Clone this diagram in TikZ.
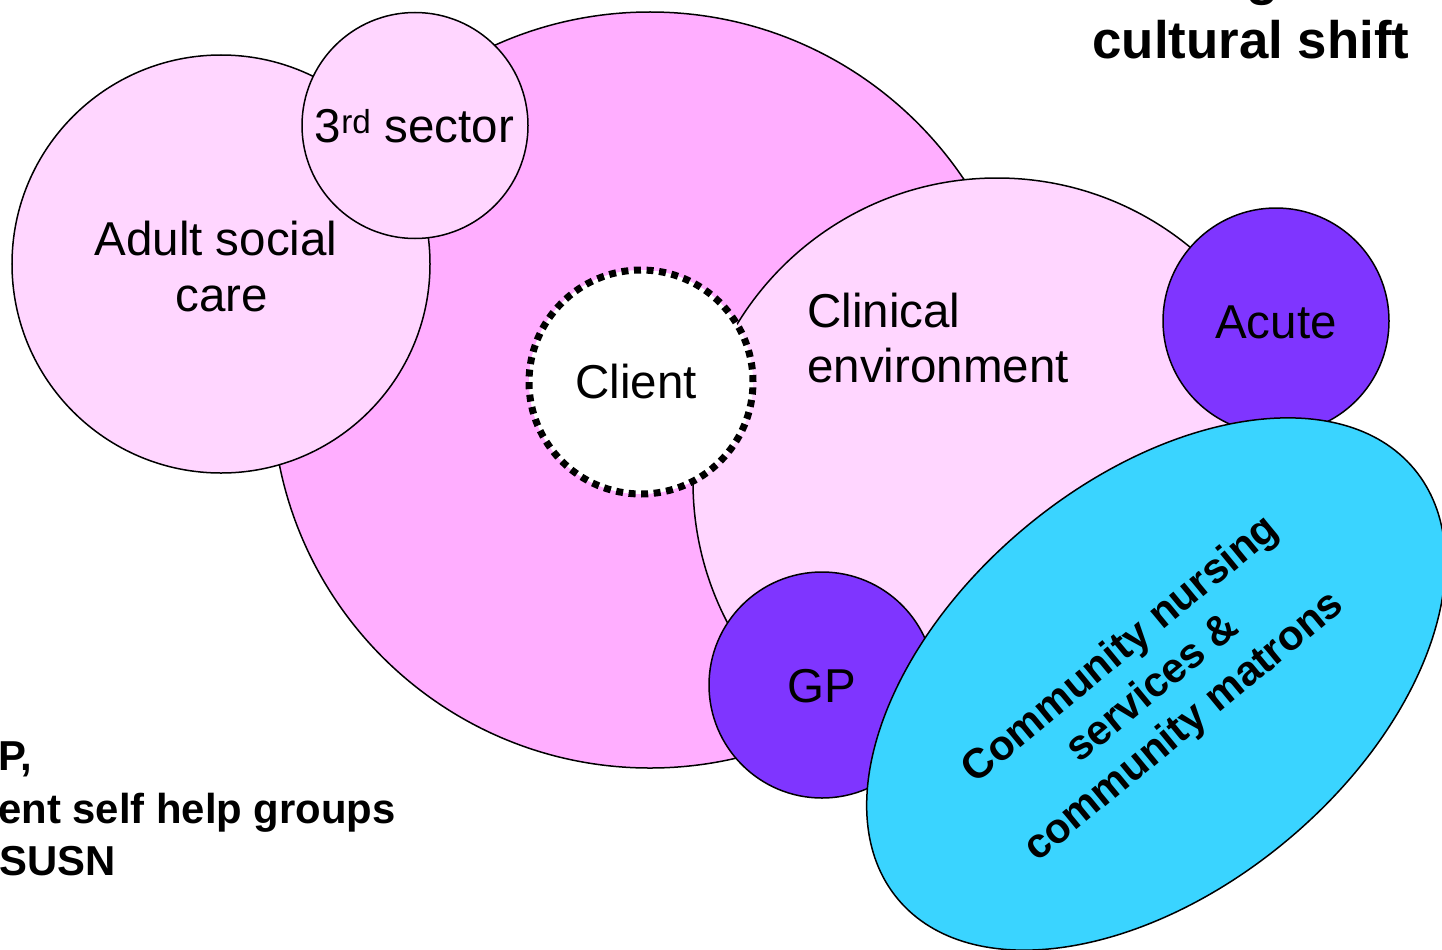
\documentclass[tikz,border=0pt]{standalone}
\usepackage{fontspec}
\setmainfont{Liberation Sans}
\usetikzlibrary{shapes.geometric}
\definecolor{bigpink}{HTML}{FFAEFF}
\definecolor{lightpink}{HTML}{FFD6FF}
\definecolor{violetfill}{HTML}{7F35FF}
\definecolor{cyanfill}{HTML}{3AD4FF}
\begin{document}
\begin{tikzpicture}[x=1bp,y=-1bp,
  bubble/.style={circle, draw=black, line width=1.5bp, inner sep=0pt},
  lbl/.style={font=\fontsize{47.7}{56}\selectfont, anchor=base, inner sep=0pt},
  boldlbl/.style={font=\fontsize{42}{50}\selectfont\bfseries, anchor=base west, inner sep=0pt},
  titlelbl/.style={font=\fontsize{53}{63}\selectfont\bfseries, anchor=base, inner sep=0pt}]
\useasboundingbox (0,0) rectangle (1442,949);

\node[bubble, fill=bigpink, minimum size=756bp] (core) at (650,390) {};
\node[bubble, fill=lightpink, minimum size=418bp] (asc) at (221,264) {};
\node[bubble, fill=lightpink, minimum size=226bp] (third) at (415,125.5) {};
\node[bubble, fill=lightpink, minimum size=608bp] (clin) at (997,482) {};
\node[circle, fill=white, draw=black, line width=7bp, dash pattern=on 7bp off 5.57bp, minimum size=224bp, inner sep=0pt] (client) at (641,382) {};
\node[bubble, fill=violetfill, minimum size=226bp] (acute) at (1276,321) {};
\node[bubble, fill=violetfill, minimum size=226bp] (gp) at (822,685) {};
\node[ellipse, draw=black, line width=1.5bp, fill=cyanfill, minimum width=672bp, minimum height=408bp, inner sep=0pt, rotate=39.8] (cn) at (1156,684) {};

\node[lbl] (ascA) at (216,255) {Adult social};
\node[lbl] (ascB) at (222,311) {care};
\node[lbl] (thirdT) at (414.5,142) {3\textsuperscript{rd} sector};
\node[lbl] (clientT) at (636,398) {Client};
\node[lbl, anchor=base west] (clinA) at (807,327) {Clinical};
\node[lbl, anchor=base west] (clinB) at (807,382) {environment};
\node[lbl] (acuteT) at (1276,338) {Acute};
\node[lbl] (gpT) at (822,702) {GP};
\node[font=\fontsize{42}{50}\selectfont\bfseries, align=center, rotate=39.5, inner sep=0pt] (cnT) at (1153,689) {Community nursing\\services \&\\community matrons};

\node[titlelbl] (titleA) at (1263,-6) {g};
\node[titlelbl] (titleB) at (1251,58) {cultural shift};

\node[boldlbl] (noteA) at (-2,770) {P,};
\node[boldlbl] (noteB) at (-2,823) {ent self help groups};
\node[boldlbl] (noteC) at (-1,875) {SUSN};
\end{tikzpicture}
\end{document}
